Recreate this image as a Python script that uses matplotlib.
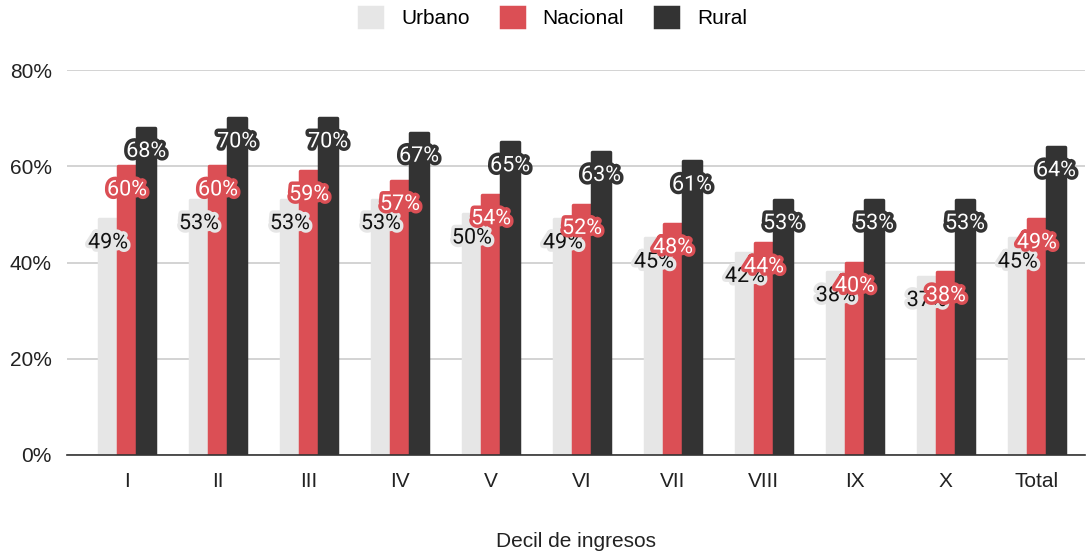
import matplotlib.pyplot as plt
import matplotlib.patheffects as pe
import numpy as np

deciles = ["I", "II", "III", "IV", "V", "VI", "VII", "VIII", "IX", "X", "Total"]
urbano = [49, 53, 53, 53, 50, 49, 45, 42, 38, 37, 45]
nacional = [60, 60, 59, 57, 54, 52, 48, 44, 40, 38, 49]
rural = [68, 70, 70, 67, 65, 63, 61, 53, 53, 53, 64]

series = [
    ("Urbano", urbano, "#e6e6e6", "#111111"),
    ("Nacional", nacional, "#db4f55", "white"),
    ("Rural", rural, "#333333", "white"),
]

plt.rcParams['font.family'] = ['Liberation Sans', 'DejaVu Sans']

fig = plt.figure(figsize=(10.91, 5.56), dpi=100)
ax = fig.add_axes([0.0614, 0.1817, 0.9331, 0.6923])

x = np.arange(len(deciles))
w = 0.19
step = 0.21

for i, (name, vals, col, tcol) in enumerate(series):
    pos = x + (i - 1) * step
    ax.bar(pos, vals, w, color=col, edgecolor=col, linewidth=2.5,
           joinstyle='round', label=name, zorder=3)
    for xp, v in zip(pos, vals):
        t = ax.annotate(f"{v}%", (xp, v), xytext=(0, -17), textcoords='offset points',
                        ha='center', va='center', fontsize=15.5, color=tcol,
                        family=['Roboto', 'DejaVu Sans'], zorder=5)
        t.set_path_effects([pe.withStroke(linewidth=5, foreground=col)])

ax.set_ylim(0, 80)
ax.set_xlim(-0.66, 10.53)
ax.set_yticks([0, 20, 40, 60, 80])
ax.set_yticklabels(["0%", "20%", "40%", "60%", "80%"])
ax.set_xticks(x)
ax.set_xticklabels(deciles)
ax.tick_params(axis='both', length=0, labelsize=15, colors='#222222')
ax.tick_params(axis='x', pad=12)
ax.tick_params(axis='y', pad=11)
ax.yaxis.grid(True, color='#cccccc', linewidth=1.2, zorder=0)
ax.set_axisbelow(True)
for s in ['top', 'right', 'left']:
    ax.spines[s].set_visible(False)
ax.spines['bottom'].set_color('#333333')
ax.spines['bottom'].set_linewidth(1.2)
ax.spines['bottom'].set_zorder(4)

ax.set_xlabel("Decil de ingresos", fontsize=15, color='#222222', labelpad=30)

fig.legend(loc='center', bbox_to_anchor=(0.507, 0.968), ncol=3, frameon=False,
           fontsize=15, handlelength=1.1, handleheight=1.1, columnspacing=1.5,
           handletextpad=0.9)

plt.savefig("out.png", dpi=100)
